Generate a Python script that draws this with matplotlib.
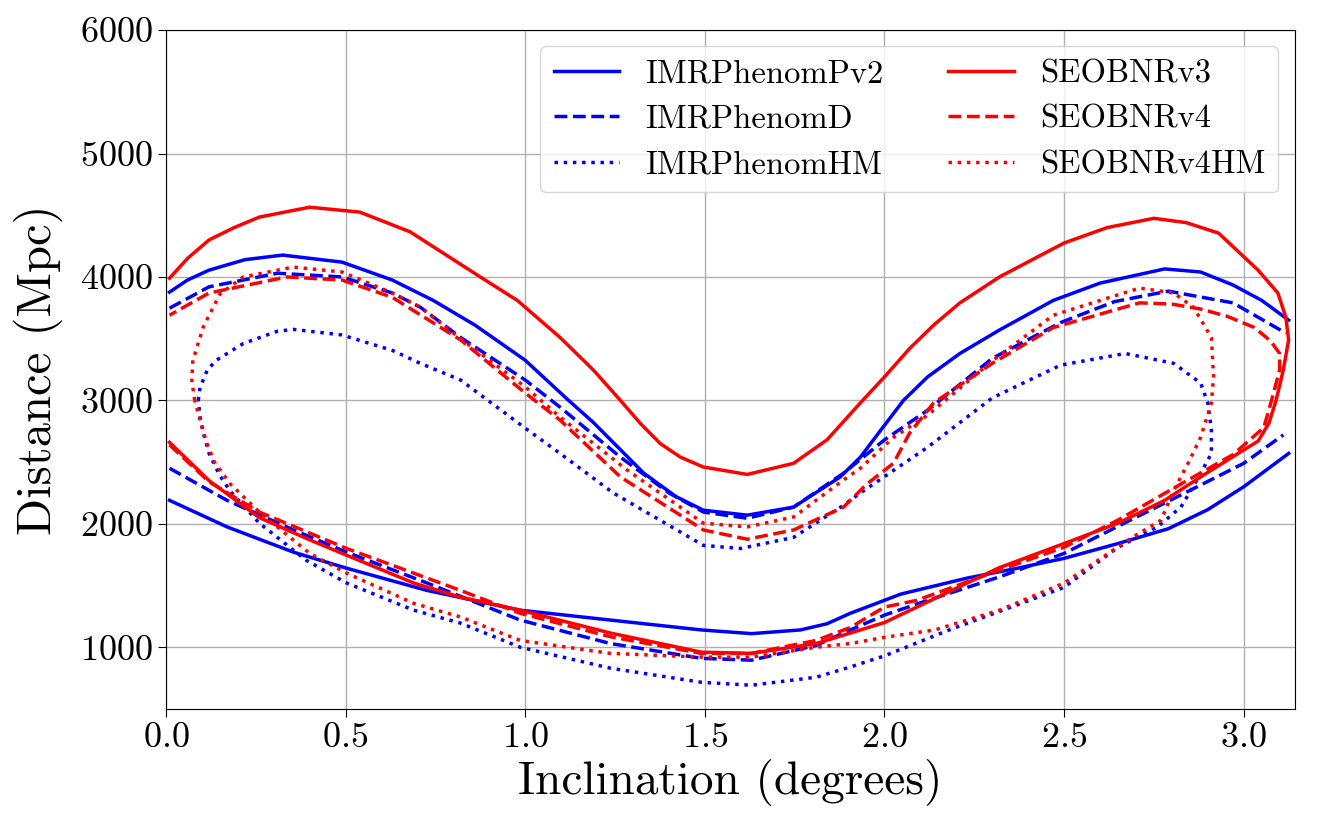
import numpy as np
import matplotlib
matplotlib.use("Agg")
import matplotlib.pyplot as plt

plt.rcParams['font.family'] = 'serif'
plt.rcParams['font.serif'] = ['cmr10']
plt.rcParams['mathtext.fontset'] = 'cm'
plt.rcParams['axes.formatter.use_mathtext'] = True
plt.rcParams['axes.unicode_minus'] = False

# IMRPhenomPv2: upper and lower branch, open at both ends
pv2_upper_x = [0.01, 0.06, 0.12, 0.22, 0.325, 0.49, 0.63, 0.744, 0.86, 1.0, 1.117, 1.19, 1.33,
               1.42, 1.496, 1.618, 1.747, 1.877, 1.933, 1.99, 2.053, 2.12, 2.21, 2.32, 2.47, 2.6,
               2.78, 2.88, 2.97, 3.05, 3.125]
pv2_upper_y = [3877, 3975, 4055, 4140, 4177, 4120, 3975, 3810, 3610, 3325, 3010, 2820, 2410,
               2220, 2110, 2070, 2135, 2380, 2540, 2760, 3000, 3190, 3380, 3570, 3810, 3950,
               4065, 4040, 3935, 3810, 3650]
pv2_lower_x = [0.01, 0.17, 0.355, 0.503, 0.727, 0.986, 1.237, 1.49, 1.63, 1.766, 1.84, 1.905,
               2.0, 2.045, 2.23, 2.37, 2.5, 2.65, 2.79, 2.9, 3.0, 3.125]
pv2_lower_y = [2190, 1975, 1770, 1640, 1460, 1300, 1220, 1140, 1110, 1140, 1190, 1275,
               1380, 1430, 1560, 1640, 1720, 1840, 1960, 2115, 2300, 2570]

# IMRPhenomD: upper and lower branch, open at both ends
d_upper_x = [0.01, 0.12, 0.31, 0.49, 0.63, 0.708, 0.82, 1.0, 1.097, 1.265, 1.40, 1.496, 1.618,
             1.747, 1.886, 2.0, 2.12, 2.30, 2.49, 2.64, 2.79, 2.97, 3.117]
d_upper_y = [3747, 3920, 4030, 4000, 3870, 3755, 3510, 3165, 2945, 2540, 2250, 2095, 2045,
             2135, 2410, 2680, 2920, 3340, 3630, 3800, 3885, 3790, 3545]
d_lower_x = [0.01, 0.17, 0.355, 0.503, 0.727, 0.986, 1.237, 1.49, 1.63, 1.81, 1.905, 2.0, 2.09,
             2.32, 2.5, 2.65, 2.85, 3.0, 3.11]
d_lower_y = [2450, 2190, 1950, 1770, 1520, 1220, 1030, 910, 895, 1015, 1140, 1260, 1350,
             1570, 1760, 1980, 2270, 2490, 2720]

# IMRPhenomHM: closed loop
hm_x = [0.09, 0.095, 0.115, 0.14, 0.215, 0.31, 0.355, 0.49, 0.63, 0.708, 0.82, 1.0, 1.097, 1.245,
        1.496, 1.6, 1.747, 1.886, 1.933, 2.12, 2.30, 2.49, 2.67, 2.805, 2.88, 2.9, 2.91, 2.91,
        2.87, 2.825, 2.76, 2.65, 2.5, 2.32, 2.18, 2.0, 1.905, 1.81, 1.63, 1.49, 1.237, 0.986,
        0.82, 0.69, 0.503, 0.39, 0.26, 0.18, 0.15, 0.12, 0.104, 0.095, 0.09]
hm_y = [3000, 3105, 3245, 3325, 3460, 3560, 3575, 3530, 3405, 3300, 3165, 2775, 2570, 2250,
        1825, 1800, 1890, 2150, 2250, 2620, 3020, 3285, 3380, 3300, 3140, 2980, 2760, 2570,
        2355, 2135, 1975, 1810, 1485, 1290, 1140, 930, 840, 757, 692, 716, 830, 1000,
        1195, 1300, 1520, 1705, 2005, 2260, 2390, 2570, 2735, 2865, 3000]

# SEOBNRv3: lower branch left->right, turns at right edge, upper branch right->left
v3_x = [0.01, 0.12, 0.26, 0.40, 0.503, 0.69, 0.82, 0.986, 1.237, 1.49, 1.63, 1.81, 1.905, 2.0,
        2.09, 2.23, 2.32, 2.5, 2.65, 2.78, 2.88, 2.99, 3.04, 3.07, 3.09, 3.11, 3.125, 3.117,
        3.095, 3.04, 2.93, 2.84, 2.75, 2.62, 2.5, 2.32, 2.21, 2.137, 2.07, 2.0, 1.933, 1.84,
        1.747, 1.618, 1.496, 1.432, 1.376, 1.32, 1.265, 1.19, 1.097, 0.978, 0.875, 0.68, 0.54,
        0.40, 0.26, 0.19, 0.12, 0.06, 0.01]
v3_y = [2660, 2350, 2050, 1870, 1745, 1520, 1405, 1300, 1115, 960, 950, 1030, 1115, 1200,
        1325, 1520, 1645, 1840, 2005, 2190, 2380, 2580, 2670, 2815, 3000, 3245, 3490, 3675,
        3870, 4055, 4355, 4440, 4475, 4400, 4275, 4000, 3790, 3610, 3420, 3190, 2980, 2680,
        2490, 2400, 2460, 2540, 2650, 2815, 3000, 3245, 3510, 3810, 4000, 4365, 4525,
        4565, 4485, 4400, 4300, 4150, 3990]

# SEOBNRv4: lower branch left->right, turns at right edge, upper branch right->left
v4_x = [0.01, 0.12, 0.26, 0.503, 0.69, 0.82, 0.986, 1.237, 1.49, 1.63, 1.81, 1.905, 2.0, 2.09,
        2.32, 2.5, 2.65, 2.83, 2.97, 3.056, 3.085, 3.1, 3.1, 3.075, 3.03, 2.955, 2.88, 2.8, 2.71,
        2.47, 2.30, 2.137, 2.07, 2.025, 1.95, 1.886, 1.747, 1.618, 1.496, 1.265, 1.097, 1.0,
        0.82, 0.63, 0.49, 0.337, 0.12, 0.01]
v4_y = [2640, 2340, 2095, 1800, 1600, 1460, 1275, 1085, 950, 950, 1055, 1160, 1325, 1380,
        1625, 1810, 2030, 2330, 2560, 2780, 3080, 3250, 3380, 3480, 3590, 3680, 3740, 3780, 3790,
        3590, 3300, 2980, 2735, 2490, 2320, 2135, 1950, 1875, 1950, 2380, 2840, 3060,
        3490, 3835, 3975, 4000, 3870, 3690]

# SEOBNRv4HM: closed loop
v4hm_x = [0.08, 0.072, 0.075, 0.104, 0.15, 0.215, 0.355, 0.49, 0.63, 0.708, 0.82, 1.0, 1.097,
          1.284, 1.496, 1.618, 1.747, 1.886, 1.933, 2.025, 2.12, 2.30, 2.47, 2.71, 2.805, 2.86,
          2.91, 2.916, 2.91, 2.88, 2.845, 2.805, 2.77, 2.69, 2.5, 2.32, 2.14, 2.0, 1.905, 1.81,
          1.63, 1.49, 1.237, 0.986, 0.82, 0.69, 0.503, 0.4, 0.26, 0.18, 0.135, 0.113, 0.095, 0.08]
v4hm_y = [3000, 3165, 3325, 3595, 3860, 4000, 4080, 4040, 3870, 3755, 3500, 3110, 2865,
          2435, 2005, 1975, 2055, 2355, 2450, 2700, 2880, 3320, 3690, 3910, 3870, 3755,
          3510, 3190, 2980, 2700, 2490, 2270, 2030, 1890, 1520, 1300, 1140, 1080, 1030, 1000,
          920, 920, 950, 1055, 1245, 1355, 1600, 1760, 2095, 2320, 2500, 2660, 2840, 3000]

lw = 2.5
fig = plt.figure(figsize=(13.17, 8.36), dpi=100)
ax = fig.add_axes([0.126, 0.152, 0.857, 0.812])

ax.plot(pv2_upper_x, pv2_upper_y, color='blue', ls='-', lw=lw, label='IMRPhenomPv2')
ax.plot(pv2_lower_x, pv2_lower_y, color='blue', ls='-', lw=lw)
ax.plot(d_upper_x, d_upper_y, color='blue', ls='--', lw=lw, label='IMRPhenomD')
ax.plot(d_lower_x, d_lower_y, color='blue', ls='--', lw=lw)
ax.plot(hm_x, hm_y, color='blue', ls=':', lw=lw, label='IMRPhenomHM')
ax.plot(v3_x, v3_y, color='red', ls='-', lw=lw, label='SEOBNRv3')
ax.plot(v4_x, v4_y, color='red', ls='--', lw=lw, label='SEOBNRv4')
ax.plot(v4hm_x, v4hm_y, color='red', ls=':', lw=lw, label='SEOBNRv4HM')

ax.set_xlim(0, np.pi)
ax.set_ylim(500, 6000)
ax.grid(True, color='#b0b0b0', lw=1.0)
ax.tick_params(labelsize=26, length=6)
ax.set_xlabel('Inclination (degrees)', fontsize=34)
ax.set_ylabel('Distance (Mpc)', fontsize=35, labelpad=12)
ax.legend(ncol=2, loc='upper right', fontsize=23.5)

fig.savefig('out.png', dpi=100)
